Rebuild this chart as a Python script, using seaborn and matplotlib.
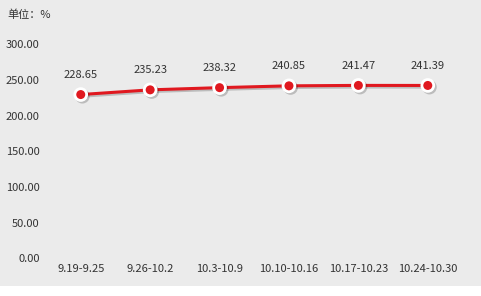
import matplotlib
matplotlib.use("Agg")
import matplotlib.pyplot as plt
import matplotlib.patheffects as pe
import seaborn as sns
import pandas as pd
from matplotlib.patches import Rectangle

categories = ["9.19-9.25", "9.26-10.2", "10.3-10.9", "10.10-10.16", "10.17-10.23", "10.24-10.30"]
values = [228.65, 235.23, 238.32, 240.85, 241.47, 241.39]
y_ticks = [0, 50, 100, 150, 200, 250, 300]
unit_label = "单位：%"

sns.set_theme(style="white")
plt.rcParams['font.family'] = ['Noto Sans CJK SC', 'DejaVu Sans']

bg = "#ebebeb"
text_color = "#333333"

df = pd.DataFrame({"period": categories, "value": values})

fig = plt.figure(figsize=(4.815, 2.965), dpi=100)
fig.patch.set_facecolor(bg)
white_strip = Rectangle((0, 0), 1, 10 / 296, transform=fig.transFigure,
                        facecolor="white", edgecolor="none", zorder=100)
fig.add_artist(white_strip)
ax = fig.add_axes([46 / 481, 38 / 296, (462 - 46) / 481, (252 - 38) / 296])
ax.set_facecolor(bg)

df["x"] = range(len(categories))
sns.lineplot(data=df, x="x", y="value", ax=ax, color="#e0181f", linewidth=2.2,
             marker="o", markersize=8.5, markeredgecolor="white", markeredgewidth=2,
             markerfacecolor="#e0181f", zorder=3)
for ln in ax.lines:
    ln.set_path_effects([pe.SimpleLineShadow(offset=(1.2, -1.2), alpha=0.2, shadow_color="black"),
                         pe.Normal()])

for i, v in enumerate(values):
    ax.annotate(f"{v:.2f}", (i, v), xytext=(0, 11), textcoords="offset points",
                ha="center", va="bottom", fontsize=8, color=text_color)

ax.set_xlim(-0.5, len(categories) - 0.5)
ax.set_ylim(0, 300)
ax.set_yticks(y_ticks)
ax.set_yticklabels([f"{t:.2f}" for t in y_ticks], fontsize=8, color=text_color)
ax.set_xticks(range(len(categories)))
ax.set_xticklabels(categories, fontsize=8, color=text_color)
ax.tick_params(axis="y", length=0, pad=4.5)
ax.tick_params(axis="x", length=0, pad=4)
ax.set_xlabel("")
ax.set_ylabel("")
for s in ax.spines.values():
    s.set_visible(False)
ax.grid(False)

fig.text(7 / 481, 1 - 15 / 296, unit_label, fontsize=8, color=text_color, ha="left", va="center")

fig.savefig("out.png", dpi=100, facecolor=fig.get_facecolor())
